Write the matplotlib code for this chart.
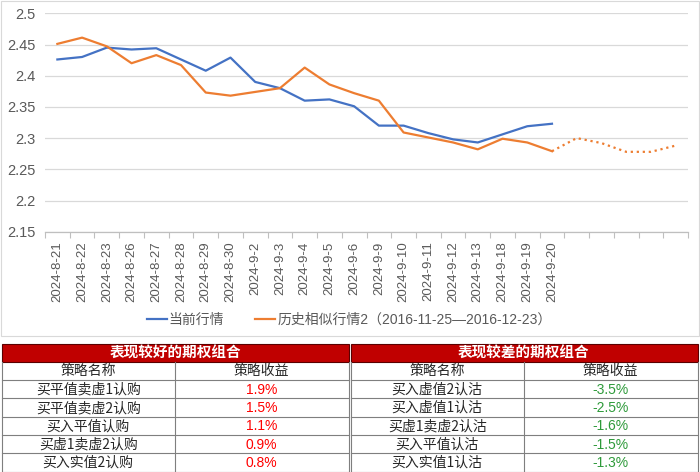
import matplotlib

matplotlib.use("Agg")
import matplotlib.pyplot as plt
from matplotlib.patches import Rectangle
import numpy as np

plt.rcParams["font.family"] = ["Liberation Sans", "Noto Sans CJK SC", "DejaVu Sans"]

# ---- data ----
dates = [
    "2024-8-21", "2024-8-22", "2024-8-23", "2024-8-26", "2024-8-27", "2024-8-28",
    "2024-8-29", "2024-8-30", "2024-9-2", "2024-9-3", "2024-9-4", "2024-9-5",
    "2024-9-6", "2024-9-9", "2024-9-10", "2024-9-11", "2024-9-12", "2024-9-13",
    "2024-9-18", "2024-9-19", "2024-9-20",
]
future_slots = 5  # unlabeled categories for the projected part
current = [
    2.426, 2.430, 2.445, 2.442, 2.444, 2.426, 2.408, 2.429, 2.390, 2.380, 2.360,
    2.362, 2.351, 2.320, 2.320, 2.308, 2.298, 2.293, 2.306, 2.319, 2.323,
]
history = [
    2.451, 2.461, 2.447, 2.420, 2.433, 2.417, 2.373, 2.368, 2.374, 2.380, 2.413,
    2.386, 2.372, 2.360, 2.309, 2.301, 2.293, 2.282, 2.299, 2.293, 2.279,
    2.300, 2.292, 2.278, 2.278, 2.288,
]
current_label = "当前行情"
history_label = "历史相似行情2（2016-11-25—2016-12-23）"

good_title = "表现较好的期权组合"
good_names = ["买平值卖虚1认购", "买平值卖虚2认购", "买入平值认购", "买虚1卖虚2认购", "买入实值2认购"]
good_returns = [1.9, 1.5, 1.1, 0.9, 0.8]
bad_title = "表现较差的期权组合"
bad_names = ["买入虚值2认沽", "买入虚值1认沽", "买虚1卖虚2认沽", "买入平值认沽", "买入实值1认沽"]
bad_returns = [-3.5, -2.5, -1.6, -1.5, -1.3]
col_headers = ["策略名称", "策略收益"]

BLUE = "#4472C4"
ORANGE = "#ED7D31"
TEXT = "#595959"
W, H = 700, 472

fig = plt.figure(figsize=(W / 100, H / 100), dpi=100)

# overlay in pixel coordinates for the frame and the tables
ov = fig.add_axes([0, 0, 1, 1], zorder=0)
ov.set_xlim(0, W)
ov.set_ylim(H, 0)
ov.axis("off")
ov.add_patch(Rectangle((0.5, 0.5), W - 2, 335.5, fill=False, edgecolor="#D9D9D9", lw=0.8))

# ---- line chart ----
n_cat = len(dates) + future_slots
x_all = np.arange(n_cat)
ax = fig.add_axes([45 / W, 1 - 231.7 / H, 643 / W, (231.7 - 13.3) / H], zorder=1)
ax.patch.set_alpha(0)
ax.plot(x_all[: len(current)], current, color=BLUE, lw=1.6, label=current_label, zorder=3)
solid_n = len(dates)
ax.plot(x_all[:solid_n], history[:solid_n], color=ORANGE, lw=1.6, label=history_label, zorder=3)
ax.plot(x_all[solid_n - 1:], history[solid_n - 1:], color=ORANGE, lw=1.6, ls=(0, (1, 1.7)), zorder=3)

ax.set_xlim(-0.5, n_cat - 0.5)
ax.set_ylim(2.15, 2.5)
yticks = np.round(np.arange(2.15, 2.501, 0.05), 2)
ax.set_yticks(yticks)
ax.set_yticklabels([f"{v:g}" for v in yticks])
ax.set_xticks(x_all)
ax.set_xticklabels(dates + [""] * future_slots, rotation=90)
ax.set_xticks(np.arange(-0.5, n_cat, 1.0), minor=True)
ax.tick_params(axis="x", which="major", length=0, pad=7, labelsize=9.5, labelcolor=TEXT)
ax.tick_params(axis="x", which="minor", length=4, color="#BFBFBF", width=0.8)
ax.tick_params(axis="y", length=0, pad=7, labelsize=10.5, labelcolor=TEXT)
ax.grid(axis="y", color="#D9D9D9", lw=0.9)
ax.set_axisbelow(True)
for side in ("left", "right", "top"):
    ax.spines[side].set_visible(False)
ax.spines["bottom"].set_color("#BFBFBF")
ax.spines["bottom"].set_linewidth(0.9)

leg = fig.legend(
    loc="center", bbox_to_anchor=(349 / W, 1 - 320 / H), ncol=2, frameon=False,
    fontsize=10, handlelength=1.45, handletextpad=0.15, columnspacing=2.2,
)
for t in leg.get_texts():
    t.set_color(TEXT)

# ---- tables ----
top, head_h, row_h = 344.0, 17.7, 18.3
grid_c = "#7F7F7F"


def draw_table(x0, x1, title, names, returns, color):
    xm = (x0 + x1) / 2
    ov.add_patch(Rectangle((x0, top), x1 - x0, head_h, facecolor="#C00000", edgecolor="#5A0000", lw=0.8))
    ov.text(xm, top + head_h / 2, title, color="white", fontsize=10.5, fontweight="bold",
            ha="center", va="center", family=["Noto Sans CJK SC"])
    y0 = top + head_h
    rows = [(col_headers[0], col_headers[1], "#262626")]
    rows += [(n, f"{r:.1f}%", color) for n, r in zip(names, returns)]
    for i, (name, val, vc) in enumerate(rows):
        ya = y0 + i * row_h
        ov.plot([x0, x1], [ya + row_h, ya + row_h], color=grid_c, lw=0.8)
        ov.text((x0 + xm) / 2, ya + row_h / 2 + 0.5, name, color="#262626", fontsize=10,
                ha="center", va="center", family=["Noto Sans CJK SC"])
        ov.text((xm + x1) / 2, ya + row_h / 2 + 0.5, val, color=vc, fontsize=10,
                ha="center", va="center")
    yb = y0 + len(rows) * row_h
    for xx in (x0, xm, x1):
        ov.plot([xx, xx], [y0, yb], color=grid_c, lw=0.8)


draw_table(1.5, 348.5, good_title, good_names, good_returns, "#FF0000")
draw_table(350.5, 697.5, bad_title, bad_names, bad_returns, "#2E9A3A")

fig.savefig("out.png", dpi=100)
